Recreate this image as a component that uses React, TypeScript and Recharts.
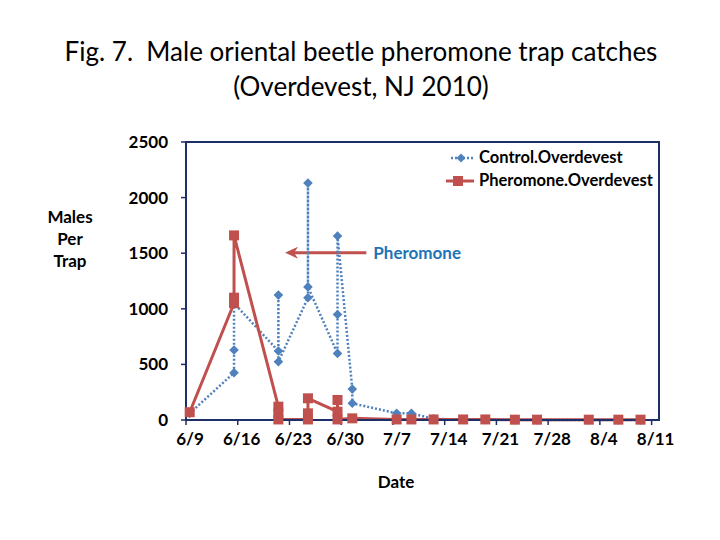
import React from "react"
import { LineChart, Line, XAxis, YAxis, Legend, ReferenceLine, ReferenceArea } from "recharts"

// Sampling dates (several traps read on the same day -> repeated dates)
const controlDates = ["6/9", "6/15", "6/15", "6/15", "6/21", "6/21", "6/21", "6/25", "6/25", "6/25", "6/29", "6/29", "6/29", "7/1", "7/1", "7/7", "7/9", "7/12", "7/16", "7/19", "7/23", "7/26", "8/2", "8/6", "8/9"]
const controlValues = [60, 425, 630, 1050, 620, 1123, 524, 1099, 2131, 1197, 599, 949, 1655, 278, 150, 60, 60, 10, 5, 5, 0, 0, 0, 0, 0]

const pheromoneDates = ["6/9", "6/15", "6/15", "6/15", "6/21", "6/21", "6/21", "6/25", "6/25", "6/25", "6/29", "6/29", "6/29", "7/1", "7/7", "7/9", "7/12", "7/16", "7/19", "7/23", "7/26", "8/2", "8/6", "8/9"]
const pheromoneValues = [70, 1050, 1100, 1660, 120, 60, 5, 5, 60, 195, 75, 180, 5, 15, 5, 5, 5, 5, 5, 3, 3, 3, 3, 3]

const xTickLabels = ["6/9", "6/16", "6/23", "6/30", "7/7", "7/14", "7/21", "7/28", "8/4", "8/11"]
const yTicks = [0, 500, 1000, 1500, 2000, 2500]

// annotation arrow: tip and tail (days from 6/9, males per trap)
const arrowFrom = { day: 24.4, value: 1505 }
const arrowTo = { day: 13.4, value: 1505 }

const NAVY = "#1c2f66"
const BLUE = "#4f81bd"
const RED = "#c0504d"
const FONT = "Lato, 'Open Sans', sans-serif"

// days since 6/9
const dayOf = (s: string) => {
    const [m, d] = s.split("/").map(Number)
    if (m === 6) return d - 9
    if (m === 7) return 21 + d
    return 52 + d
}

// Excel date axis puts each point in the middle of its day
const controlData = controlDates.map((d, i) => ({ x: dayOf(d) + 0.5, y: controlValues[i] }))
const pheromoneData = pheromoneDates.map((d, i) => ({ x: dayOf(d) + 0.5, y: pheromoneValues[i] }))
const xTicks = xTickLabels.map(dayOf)

const Diamond = (props: any) => {
    const { cx, cy, index } = props
    const r = 4.8
    return <path key={`c-${index}`} d={`M${cx},${cy - r}L${cx + r},${cy}L${cx},${cy + r}L${cx - r},${cy}Z`} fill={BLUE} />
}

const Square = (props: any) => {
    const { cx, cy, index } = props
    const s = 10
    return <rect key={`p-${index}`} x={cx - s / 2} y={cy - s / 2} width={s} height={s} fill={RED} />
}

const DateTick = (props: any) => {
    const { x, y, payload } = props
    const idx = xTicks.indexOf(payload.value)
    return (
        <text x={x + 4} y={y} dy="0.72em" textAnchor="middle" fontFamily={FONT} fontWeight={700} fontSize={17} fill="#000">
            {xTickLabels[idx]}
        </text>
    )
}

const Arrow = (props: any) => {
    const { x1, y1, x2, y2 } = props
    // tail on the right, tip on the left
    const tipX = Math.min(x1, x2)
    const tailX = Math.max(x1, x2)
    const yy = (y1 + y2) / 2
    return (
        <g>
            <line x1={tailX} y1={yy} x2={tipX + 8} y2={yy} stroke={RED} strokeWidth={3} />
            <path d={`M${tipX},${yy}L${tipX + 13},${yy - 6}L${tipX + 9},${yy}L${tipX + 13},${yy + 6}Z`} fill={RED} />
            <text x={tailX + 7} y={yy + 6} fontFamily={FONT} fontWeight={700} fontSize={17} fill="#1f73b7">
                Pheromone
            </text>
        </g>
    )
}

const LegendBox = () => (
    <div style={{ fontFamily: FONT, fontWeight: 700, fontSize: 16.5, color: "#000", lineHeight: "23px" }}>
        <div style={{ display: "flex", alignItems: "center" }}>
            <svg width={30} height={12} style={{ marginRight: 3 }}>
                <line x1={5} y1={6} x2={27} y2={6} stroke={BLUE} strokeWidth={2.5} strokeDasharray="2 2" />
                <path d="M15,1.5L19.5,6L15,10.5L10.5,6Z" fill={BLUE} />
            </svg>
            <span>Control.Overdevest</span>
        </div>
        <div style={{ display: "flex", alignItems: "center" }}>
            <svg width={30} height={12} style={{ marginRight: 3 }}>
                <line x1={0} y1={6} x2={28} y2={6} stroke={RED} strokeWidth={3} />
                <rect x={7} y={1} width={10} height={10} fill={RED} />
            </svg>
            <span>Pheromone.Overdevest</span>
        </div>
    </div>
)

export default function App() {
    return (
        <div style={{ position: "absolute", left: 0, top: 0, width: 720, height: 540, background: "#fff", fontFamily: FONT }}>
            {/* Title */}
            <div style={{ position: "absolute", left: 0, top: 34, width: 722, textAlign: "center", fontSize: 26, lineHeight: "35px", color: "#000" }}>
                <div>Fig. 7.&nbsp; Male oriental beetle pheromone trap catches</div>
                <div>(Overdevest, NJ 2010)</div>
            </div>

            {/* Y axis title */}
            <div style={{ position: "absolute", left: 40, top: 206, width: 60, textAlign: "center", fontSize: 17, fontWeight: 700, lineHeight: "22px", color: "#000" }}>
                <div>Males</div>
                <div>Per</div>
                <div>Trap</div>
            </div>

            {/* X axis title */}
            <div style={{ position: "absolute", left: 366, top: 471, width: 60, textAlign: "center", fontSize: 17, fontWeight: 700, color: "#000" }}>
                Date
            </div>

            <LineChart width={720} height={540} margin={{ top: 142, right: 61, left: 130, bottom: 90 }}>
                <ReferenceArea x1={0} x2={64} y1={0} y2={2500} fill="none" stroke={NAVY} strokeWidth={2} ifOverflow="visible" />
                <XAxis
                    type="number"
                    dataKey="x"
                    domain={[0, 64]}
                    ticks={xTicks}
                    interval={0}
                    height={30}
                    tick={<DateTick />}
                    tickSize={5}
                    tickMargin={8}
                    stroke={NAVY}
                    axisLine={{ stroke: NAVY, strokeWidth: 2 }}
                    tickLine={{ stroke: NAVY, strokeWidth: 1.5 }}
                />
                <YAxis
                    type="number"
                    dataKey="y"
                    domain={[0, 2500]}
                    ticks={yTicks}
                    width={56}
                    tickSize={5}
                    tickMargin={13}
                    axisLine={{ stroke: NAVY, strokeWidth: 2 }}
                    tickLine={{ stroke: NAVY, strokeWidth: 1.5 }}
                    tick={{ fontFamily: FONT, fontWeight: 700, fontSize: 17, fill: "#000" }}
                />
                <ReferenceLine
                    segment={[{ x: arrowFrom.day, y: arrowFrom.value }, { x: arrowTo.day, y: arrowTo.value }]}
                    shape={<Arrow />}
                />
                <Legend
                    layout="vertical"
                    align="center"
                    verticalAlign="middle"
                    wrapperStyle={{ left: 446, top: 146, width: 220 }}
                    content={<LegendBox />}
                />
                <Line
                    data={controlData}
                    dataKey="y"
                    name="Control.Overdevest"
                    stroke={BLUE}
                    strokeWidth={2.5}
                    strokeDasharray="2 2"
                    dot={<Diamond />}
                    activeDot={false}
                    isAnimationActive={false}
                />
                <Line
                    data={pheromoneData}
                    dataKey="y"
                    name="Pheromone.Overdevest"
                    stroke={RED}
                    strokeWidth={3}
                    dot={<Square />}
                    activeDot={false}
                    isAnimationActive={false}
                />
            </LineChart>
        </div>
    )
}
